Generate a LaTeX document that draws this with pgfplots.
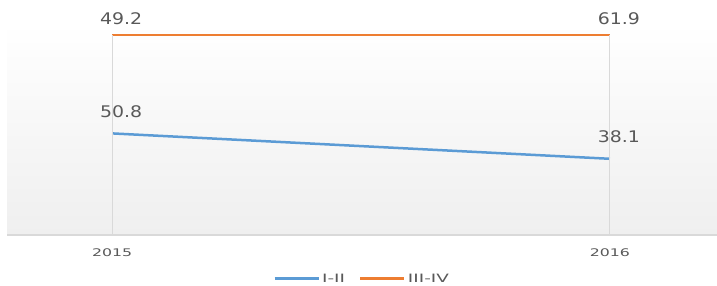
\documentclass[border=0pt]{standalone}
\usepackage{pgfplots}
\pgfplotsset{compat=1.18}
\usepackage{fontspec}
\setmainfont{DejaVu Sans}
\newfontfamily\lblfont[FakeStretch=1.18]{DejaVu Sans}
\newfontfamily\tickfont[FakeStretch=1.5]{DejaVu Sans}
\newfontfamily\legfont[FakeStretch=1.6]{DejaVu Sans}
\definecolor{blueline}{HTML}{5B9BD5}
\definecolor{orangeline}{HTML}{ED7D31}
\definecolor{txt}{HTML}{595959}
\definecolor{gridc}{HTML}{D9D9D9}
\definecolor{bgbot}{HTML}{EFEFEF}
\begin{document}
\begin{tikzpicture}
\useasboundingbox (0,0) rectangle (717bp,286bp);
\begin{axis}[
  at={(7bp,51bp)}, anchor=south west,
  scale only axis, width=710bp, height=212bp,
  xmin=-0.211, xmax=1.215, ymin=0, ymax=106,
  clip=false,
  stack plots=y,
  axis x line*=bottom, axis y line=none,
  x axis line style={gridc, line width=1.5bp, -},
  xtick={0,1}, xticklabels={2015,2016},
  major tick length=0pt,
  ytick=\empty,
  xticklabel style={font=\tickfont\fontsize{10.5bp}{12bp}\selectfont, text=txt, anchor=center, yshift=-18bp},
  axis background/.style={top color=white, bottom color=bgbot},
  nodes near coords, point meta=explicit symbolic,
  every node near coord/.append style={font=\lblfont\fontsize{16bp}{18bp}\selectfont, text=txt, anchor=center},
  legend columns=2,
  legend style={at={(axis description cs:0.5,0)}, anchor=center, yshift=-44bp, draw=none, fill=none,
    font=\legfont\fontsize{11.5bp}{13bp}\selectfont, text=txt,
    /tikz/every even column/.append style={column sep=12bp}},
  legend image code/.code={\draw[#1, line width=3bp] (0bp,0.6bp) -- (44bp,0.6bp);},
]
\draw[gridc, line width=1bp] (axis cs:0,0) -- (axis cs:0,100);
\draw[gridc, line width=1bp] (axis cs:1,0) -- (axis cs:1,100);
\addplot[blueline, line width=2.5bp, no marks,
  every node near coord/.append style={xshift=9bp, yshift=22bp}]
  coordinates {(0,50.8) [50.8] (1,38.1) [38.1]};
\addlegendentry{I-II}
\addplot[orangeline, line width=2.5bp, no marks,
  every node near coord/.append style={xshift=9bp, yshift=16bp}]
  coordinates {(0,49.2) [49.2] (1,61.9) [61.9]};
\addlegendentry{III-IV}
\end{axis}
\end{tikzpicture}
\end{document}
